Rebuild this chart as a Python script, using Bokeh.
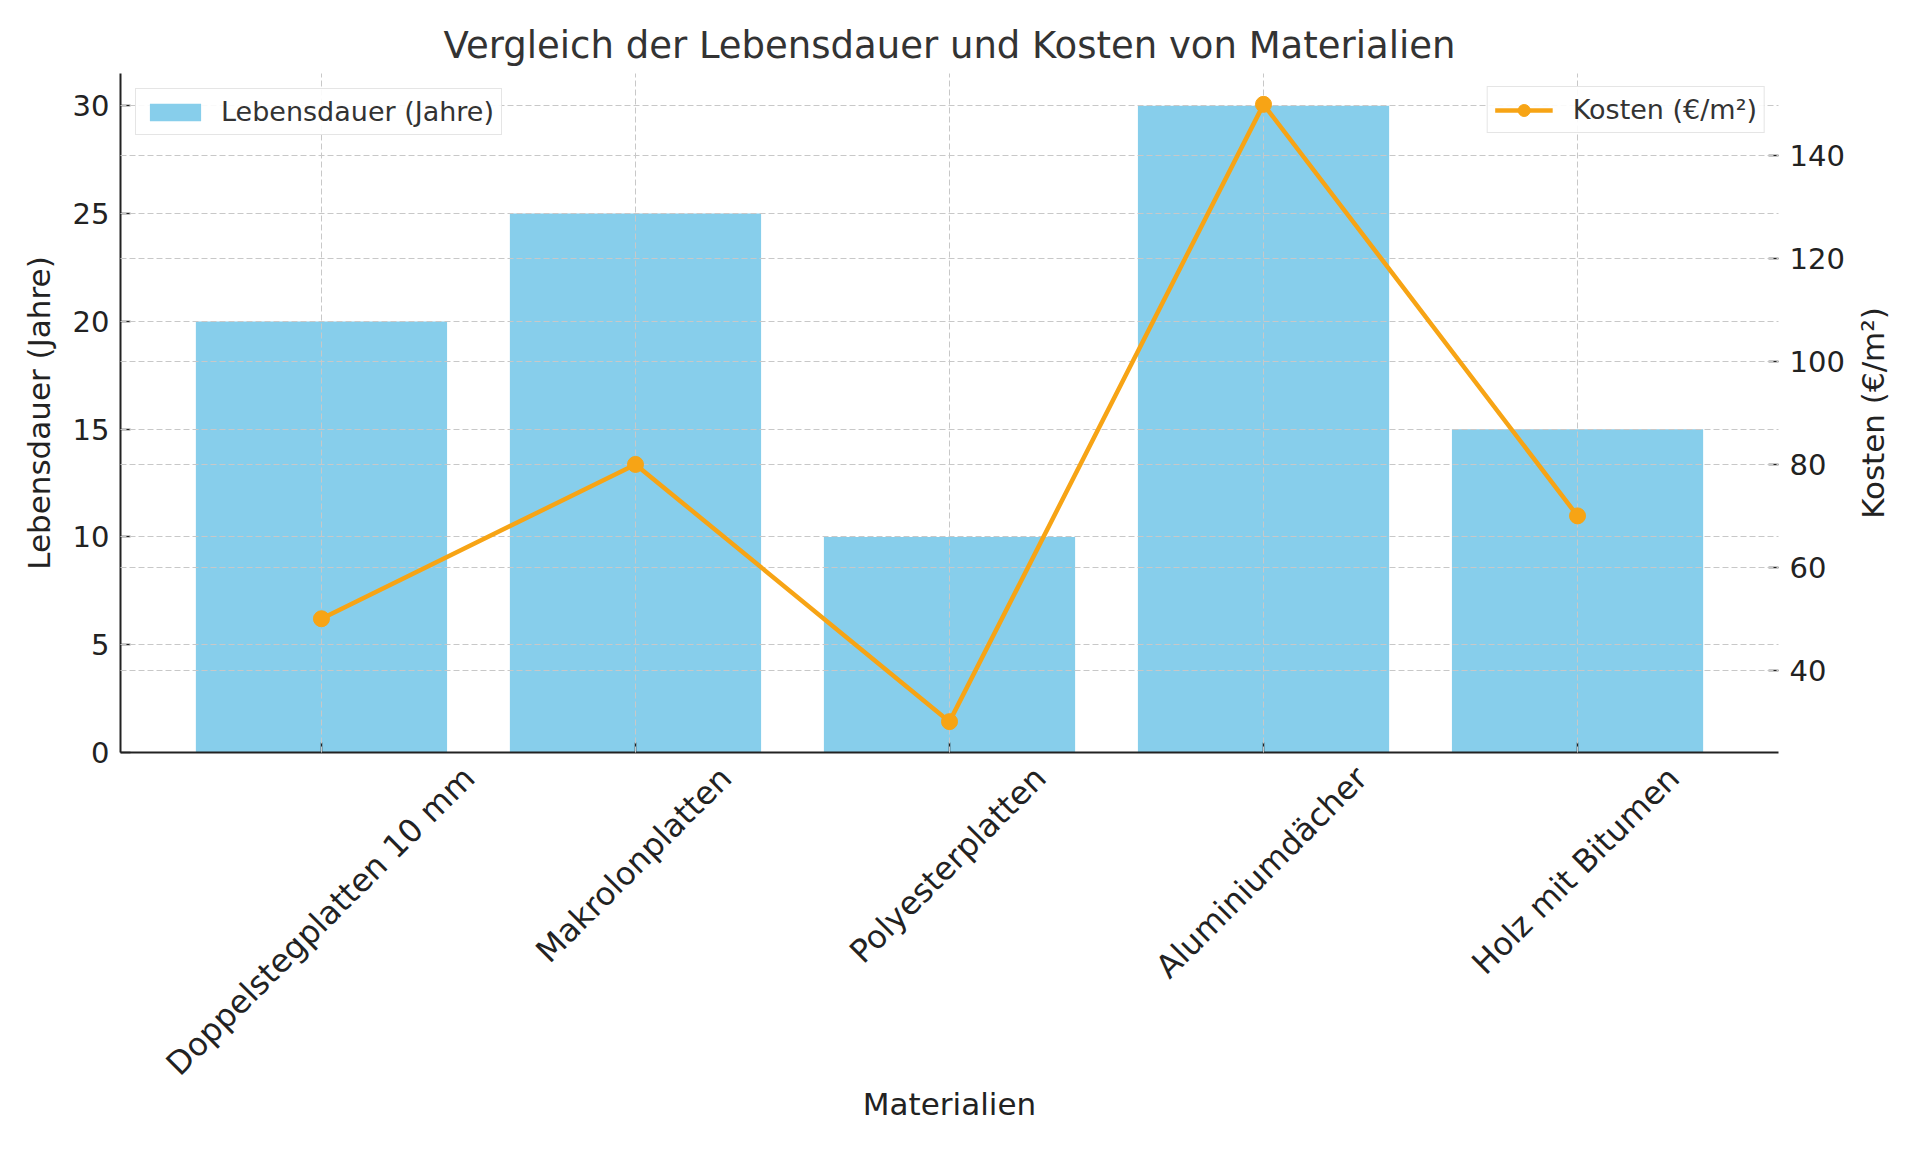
import math
from bokeh.plotting import figure
from bokeh.layouts import row
from bokeh.models import (Range1d, FixedTicker, LinearAxis, Grid, Legend, LegendItem)
from bokeh.embed import file_html
from bokeh.resources import INLINE

# ---- data ----
categories = ["Doppelstegplatten 10 mm", "Makrolonplatten", "Polyesterplatten",
              "Aluminiumdächer", "Holz mit Bitumen"]
lifespan = [20, 25, 10, 30, 15]          # Lebensdauer (Jahre)
cost = [50, 80, 30, 150, 70]             # Kosten (€/m²)
left_ticks = [0, 5, 10, 15, 20, 25, 30]
right_ticks = [40, 60, 80, 100, 120, 140]

FONT = "DejaVu Sans"
BAR = "#87CEEB"
ORANGE = "#F7A415"
GRID = "#c8c8c8"
INK = "#222222"

x = list(range(len(categories)))
X0, X1 = -0.64, len(categories) - 1 + 0.64
FRAME_W, FRAME_H = 1658, 679
TOP, BOTTOM = 73, 392

# approximate DejaVu Sans advance widths (em) -> used only to centre the rotated labels
_W = {"a": .613, "b": .635, "c": .550, "d": .635, "e": .615, "g": .635, "h": .634,
      "i": .278, "k": .579, "l": .278, "m": .974, "n": .634, "o": .612, "p": .635,
      "r": .411, "s": .521, "t": .392, "u": .634, "y": .592, "z": .525, "ä": .613,
      " ": .318, "0": .636, "1": .636, "D": .770, "M": .863, "P": .603, "A": .684,
      "H": .752, "B": .686}


def em_width(s):
    return sum(_W.get(ch, .6) for ch in s)


px_per_unit = FRAME_W / (X1 - X0)
# the label axis anchors each rotated label at its end; shift it so the label is centred
label_pos = [round(xi + (11.5 * em_width(c) - 3.5) / px_per_unit, 4)
             for xi, c in zip(x, categories)]

p = figure(frame_width=FRAME_W, frame_height=FRAME_H,
           min_border_left=120, min_border_right=66,
           min_border_top=TOP, min_border_bottom=BOTTOM,
           x_range=Range1d(X0, X1), y_range=Range1d(0, 31.5),
           output_backend="svg", toolbar_location=None,
           title="Vergleich der Lebensdauer und Kosten von Materialien")
p.outline_line_color = None

p.title.align = "center"
p.title.text_font = FONT
p.title.text_font_size = "37px"
p.title.text_font_style = "normal"
p.title.text_color = "#333333"
p.title.standoff = 13

p.extra_y_ranges = {"cost": Range1d(24, 156)}

bars = p.vbar(x=x, top=lifespan, width=0.8, fill_color=BAR, line_color=None)
line_r = p.line(x, cost, y_range_name="cost", line_color=ORANGE, line_width=4.5,
                level="annotation")
pts_r = p.scatter(x, cost, y_range_name="cost", size=16, fill_color=ORANGE,
                  line_color=ORANGE, level="annotation")

# ---- axes ----
xa = p.xaxis[0]
xa.ticker = FixedTicker(ticks=x)
xa.major_label_text_font_size = "1px"
xa.major_label_text_color = None
xa.major_label_standoff = 0
xa.major_tick_in = 10
xa.major_tick_out = 0
xa.minor_tick_line_color = None
xa.axis_line_width = 2
xa.axis_line_color = INK
xa.major_tick_line_color = INK
xa.major_tick_line_width = 1.5

# axis carrying the rotated category names
la = LinearAxis(ticker=FixedTicker(ticks=label_pos),
                major_label_overrides={t: c for t, c in zip(label_pos, categories)},
                axis_label="Materialien")
la.major_label_orientation = math.pi / 4
la.major_tick_in = 0
la.major_tick_out = 0
la.minor_tick_line_color = None
la.axis_line_color = None
la.major_tick_line_color = None
la.major_label_standoff = 20
la.axis_label_standoff = -13
la.major_label_text_font_size = "32px"
p.add_layout(la, "below")

ya = p.yaxis[0]
ya.ticker = FixedTicker(ticks=left_ticks)
ya.axis_label = "Lebensdauer (Jahre)"
ya.major_tick_in = 10
ya.major_tick_out = 0
ya.minor_tick_line_color = None
ya.axis_line_width = 2
ya.axis_line_color = INK
ya.major_tick_line_color = INK
ya.major_tick_line_width = 1.5
ya.axis_label_standoff = 13
ya.major_label_standoff = 11

ra = LinearAxis(y_range_name="cost", ticker=FixedTicker(ticks=right_ticks))
ra.major_tick_in = 10
ra.major_tick_out = 0
ra.minor_tick_line_color = None
ra.axis_line_color = None
ra.major_tick_line_color = INK
ra.major_tick_line_width = 1.5
ra.major_label_standoff = 11
p.add_layout(ra, "right")

for ax in (xa, ya, ra, la):
    ax.axis_label_text_font = FONT
    ax.axis_label_text_font_size = "31px"
    ax.axis_label_text_font_style = "normal"
    ax.axis_label_text_color = INK
    ax.major_label_text_font = FONT
for ax in (ya, ra, la):
    ax.major_label_text_color = INK
for ax in (ya, ra):
    ax.major_label_text_font_size = "29px"

# ---- grids ----
for g in (p.xgrid[0], p.ygrid[0]):
    g.grid_line_color = GRID
    g.grid_line_dash = "6 3"
    g.grid_line_width = 1
    g.level = "guide"
p.xgrid[0].ticker = FixedTicker(ticks=x)
p.ygrid[0].ticker = FixedTicker(ticks=left_ticks)
rgrid = Grid(dimension=1, ticker=FixedTicker(ticks=right_ticks), y_range_name="cost",
             grid_line_color=GRID, grid_line_dash="6 3", grid_line_width=1, level="guide")
p.add_layout(rgrid)

# ---- legends ----
def style_legend(lg, gw, gh, standoff):
    lg.label_text_font = FONT
    lg.label_text_font_size = "27px"
    lg.label_text_color = "#333333"
    lg.border_line_color = "#cccccc"
    lg.border_line_width = 1.5
    lg.background_fill_alpha = 0.9
    lg.glyph_width = gw
    lg.glyph_height = gh
    lg.label_standoff = standoff
    lg.padding = 7
    lg.spacing = 0

leg1 = Legend(items=[LegendItem(label="Lebensdauer (Jahre)", renderers=[bars])],
              location="top_left", margin=15)
leg2 = Legend(items=[LegendItem(label="Kosten (€/m²)", renderers=[line_r, pts_r])],
              location="top_right", margin=13)
style_legend(leg1, 64, 22, 14)
style_legend(leg2, 58, 30, 20)
p.add_layout(leg1)
p.add_layout(leg2)

# ---- narrow companion figure holding the right axis title (reads bottom-to-top) ----
p2 = figure(frame_width=1, frame_height=FRAME_H,
            min_border_left=43, min_border_right=0,
            min_border_top=TOP, min_border_bottom=BOTTOM,
            x_range=Range1d(0, 1), y_range=Range1d(24, 156),
            x_axis_location=None, output_backend="svg", toolbar_location=None)
p2.outline_line_color = None
p2.grid.visible = False
a2 = p2.yaxis[0]
a2.ticker = FixedTicker(ticks=[])
a2.axis_line_color = None
a2.major_tick_out = 0
a2.major_tick_in = 0
a2.minor_tick_line_color = None
a2.major_label_standoff = 0
a2.axis_label = "Kosten (€/m²)"
a2.axis_label_standoff = 0
a2.axis_label_text_font = FONT
a2.axis_label_text_font_size = "31px"
a2.axis_label_text_font_style = "normal"
a2.axis_label_text_color = INK

layout = row(p, p2)
open("out.html", "w").write(file_html(layout, INLINE))
